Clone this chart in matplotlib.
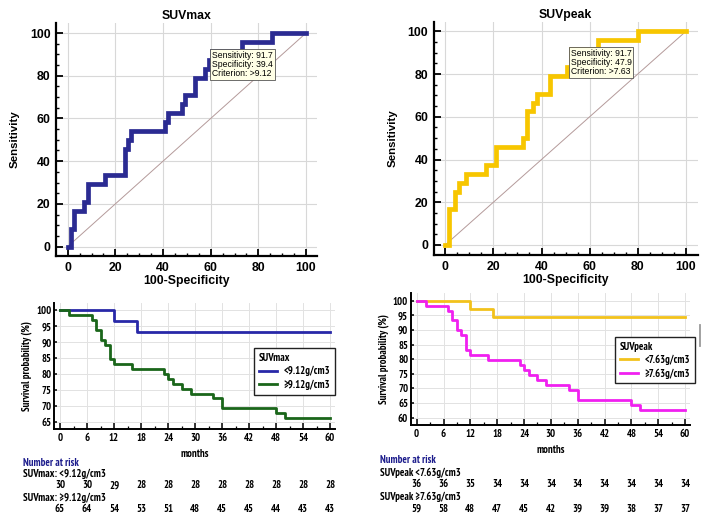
import matplotlib
matplotlib.use("Agg")
import matplotlib.pyplot as plt
from matplotlib import font_manager
from matplotlib.ticker import MultipleLocator
import matplotlib.transforms as mtransforms

W, H = 703, 518

# ROC data (corner points: x = 100-specificity, y = sensitivity)
roc_max_x = [0, 1.41, 2.82, 7.04, 8.45, 15.49, 23.94, 25.35, 26.76, 40.85, 42.25,
             47.89, 49.30, 53.52, 57.75, 59.15, 60.56, 73.24, 85.92, 100]
roc_max_y = [0, 8.33, 16.67, 20.83, 29.17, 33.33, 45.83, 50.0, 54.17, 58.33, 62.5,
             66.67, 70.83, 79.17, 83.33, 87.5, 91.67, 95.83, 100, 100]
roc_peak_x = [0, 1.41, 4.23, 5.63, 8.45, 16.90, 21.13, 32.39, 33.80, 36.62, 38.03,
              43.66, 50.70, 52.11, 63.38, 80.28, 100]
roc_peak_y = [0, 16.67, 25.0, 29.17, 33.33, 37.5, 45.83, 50.0, 62.5, 66.67, 70.83,
              79.17, 83.33, 91.67, 95.83, 100, 100]
crit_max = (60.56, 91.67, "Sensitivity: 91.7\nSpecificity: 39.4\nCriterion: >9.12")
crit_peak = (52.11, 91.67, "Sensitivity: 91.7\nSpecificity: 47.9\nCriterion: >7.63")

# Kaplan-Meier data (months, survival %)
km_max_lo_t = [0, 12, 17, 60]
km_max_lo_s = [100, 96.67, 93.33, 93.33]
km_max_hi_t = [0, 2, 7, 8, 9, 10, 11, 12, 16, 23, 24, 25, 27, 29, 34, 36, 48, 50, 60]
km_max_hi_s = [100, 98.46, 96.92, 93.85, 90.77, 89.23, 84.62, 83.08, 81.54, 80.0,
               78.46, 76.92, 75.38, 73.85, 72.31, 69.23, 67.69, 66.15, 66.15]
km_peak_lo_t = [0, 12, 17, 60]
km_peak_lo_s = [100, 97.22, 94.44, 94.44]
km_peak_hi_t = [0, 2, 7, 8, 9, 10, 11, 12, 16, 23, 24, 25, 27, 29, 34, 36, 48, 50, 60]
km_peak_hi_s = [100, 98.31, 96.61, 93.22, 89.83, 88.14, 83.05, 81.36, 79.66, 77.97,
                76.27, 74.58, 72.88, 71.19, 69.49, 66.10, 64.41, 62.71, 62.71]

risk_times = [0, 6, 12, 18, 24, 30, 36, 42, 48, 54, 60]
risk_max_lo = [30, 30, 29, 28, 28, 28, 28, 28, 28, 28, 28]
risk_max_hi = [65, 64, 54, 53, 51, 48, 45, 45, 44, 43, 43]
risk_peak_lo = [36, 36, 35, 34, 34, 34, 34, 34, 34, 34, 34]
risk_peak_hi = [59, 58, 48, 47, 45, 42, 39, 39, 38, 37, 37]

installed = {f.name for f in font_manager.fontManager.ttflist}
SANS = "Liberation Sans" if "Liberation Sans" in installed else "DejaVu Sans"
NARROW = SANS
for cand in ("PT Sans Narrow", "Roboto Condensed", "Open Sans Condensed"):
    if cand in installed:
        NARROW = cand
        break
NFAM = [NARROW, "DejaVu Sans"]
KM_FS = 7.7
plt.rcParams["font.family"] = [SANS, "DejaVu Sans"]

fig = plt.figure(figsize=(W / 100, H / 100), dpi=100)


def rect(left, top, right, bottom):
    return [left / W, 1 - bottom / H, (right - left) / W, (bottom - top) / H]


def roc_panel(box, xs, ys, color, title, crit, xlim, ylim):
    ax = fig.add_axes(box)
    ax.plot([0, 100], [0, 100], color="#b49a9a", lw=0.7, zorder=2)
    ax.step(xs, ys, where="post", color=color, lw=3.4, zorder=3,
            solid_joinstyle="miter")
    ax.set_xlim(*xlim)
    ax.set_ylim(*ylim)
    ax.xaxis.set_major_locator(MultipleLocator(20))
    ax.yaxis.set_major_locator(MultipleLocator(20))
    ax.xaxis.set_minor_locator(MultipleLocator(5))
    ax.yaxis.set_minor_locator(MultipleLocator(5))
    ax.grid(which="major", color="#d8d8d8", lw=0.8)
    ax.set_axisbelow(True)
    for s in ("top", "right"):
        ax.spines[s].set_visible(False)
    for s in ("left", "bottom"):
        ax.spines[s].set_linewidth(1.6)
    ax.tick_params(which="major", direction="in", length=5, width=1.3,
                   labelsize=8.8, pad=4)
    ax.tick_params(which="minor", direction="in", length=2.5, width=1.0)
    for lab in ax.get_xticklabels() + ax.get_yticklabels():
        lab.set_fontweight("bold")
    ax.set_title(title, fontsize=8.8, fontweight="bold", pad=3)
    ax.set_xlabel("100-Specificity", fontsize=8.8, fontweight="bold", labelpad=1)
    ax.set_ylabel("Sensitivity", fontsize=8.2, fontweight="bold", labelpad=7)
    ax.text(crit[0], crit[1], crit[2], fontsize=6.2, va="top", ha="left",
            linespacing=1.0, zorder=5,
            bbox=dict(boxstyle="square,pad=0.2", fc="#ffffe6", ec="#555555", lw=0.6))
    return ax


def km_panel(box, curves, xlim, ylim, yticks, legend_title, legend_anchor):
    ax = fig.add_axes(box)
    for t, s, color, lab in curves:
        ax.step(t, s, where="post", color=color, lw=2.0, label=lab)
    ax.set_xlim(*xlim)
    ax.set_ylim(*ylim)
    ax.set_xticks(risk_times)
    ax.xaxis.set_minor_locator(MultipleLocator(3))
    ax.set_yticks(yticks)
    ax.grid(which="major", color="#e2e2e2", lw=0.7)
    ax.set_axisbelow(True)
    for s in ("top", "right"):
        ax.spines[s].set_visible(False)
    for s in ("left", "bottom"):
        ax.spines[s].set_linewidth(1.4)
    ax.tick_params(which="major", direction="in", length=4, width=1.1,
                   labelsize=KM_FS, pad=3)
    ax.tick_params(axis="y", which="major", length=2.5, pad=2)
    ax.tick_params(which="minor", direction="in", length=2, width=0.9)
    for lab in ax.get_xticklabels() + ax.get_yticklabels():
        lab.set_family(NFAM)
        lab.set_fontweight("bold")
    ax.set_xlabel("months", fontsize=KM_FS, fontweight="bold", family=NFAM, labelpad=4)
    ax.set_ylabel("Survival probability (%)", fontsize=KM_FS, fontweight="bold",
                  family=NFAM, labelpad=3)
    leg = ax.legend(title=legend_title, loc="upper right",
                    bbox_to_anchor=(legend_anchor[0] / W, 1 - legend_anchor[1] / H),
                    bbox_transform=fig.transFigure, borderaxespad=0,
                    fancybox=False, framealpha=1,
                    edgecolor="#222222", handlelength=1.7, handletextpad=0.6,
                    borderpad=0.45, labelspacing=0.3, alignment="left",
                    prop={"family": NFAM, "size": KM_FS, "weight": "bold"},
                    title_fontproperties={"family": NFAM, "size": KM_FS, "weight": "bold"})
    leg.get_frame().set_linewidth(1.0)
    return ax


def risk_table(ax, x_label, y_rows, group_labels, counts):
    tr = mtransforms.blended_transform_factory(ax.transData, fig.transFigure)
    fig.text(x_label / W, 1 - y_rows[0] / H, "Number at risk", fontsize=KM_FS,
             fontweight="bold", color="#1c1c8c", family=NFAM, va="center")
    for i, (glab, cnt) in enumerate(zip(group_labels, counts)):
        fig.text(x_label / W, 1 - y_rows[1 + 2 * i] / H, glab, fontsize=KM_FS,
                 fontweight="bold", family=NFAM, va="center")
        for t, n in zip(risk_times, cnt):
            ax.text(t, 1 - y_rows[2 + 2 * i] / H, str(n), transform=tr, fontsize=KM_FS,
                    fontweight="bold", family=NFAM, ha="center", va="center")


roc_panel(rect(56, 23, 317, 256), roc_max_x, roc_max_y, "#2b2b92", "SUVmax",
          crit_max, (-4.9, 104.6), (-4.4, 104.7))
roc_panel(rect(433.7, 21.7, 697.7, 255), roc_peak_x, roc_peak_y, "#f7c600", "SUVpeak",
          crit_peak, (-4.8, 104.9), (-4.7, 104.5))

ax3 = km_panel(rect(54.3, 303, 335, 429.3),
               [(km_max_lo_t, km_max_lo_s, "#2828a8", "<9.12g/cm3"),
                (km_max_hi_t, km_max_hi_s, "#1a661a", "\u22659.12g/cm3")],
               (-1.27, 61.1), (62.6, 102.3), list(range(65, 101, 5)),
               "SUVmax", (335, 348))
risk_table(ax3, 23, [462.7, 474, 485.3, 497.7, 509.3],
           ["SUVmax: <9.12g/cm3", "SUVmax: \u22659.12g/cm3"],
           [risk_max_lo, risk_max_hi])

ax4 = km_panel(rect(411, 293, 690, 425),
               [(km_peak_lo_t, km_peak_lo_s, "#f2c21c", "<7.63g/cm3"),
                (km_peak_hi_t, km_peak_hi_s, "#f020f0", "\u22657.63g/cm3")],
               (-1.27, 61.1), (57.5, 102.6), list(range(60, 101, 5)),
               "SUVpeak", (695, 336.7))
risk_table(ax4, 380, [460, 472.7, 484, 496.7, 509],
           ["SUVpeak <7.63g/cm3", "SUVpeak \u22657.63g/cm3"],
           [risk_peak_lo, risk_peak_hi])

# small grey mark at the right edge of the lower-right panel
fig.add_artist(plt.Line2D([699.5 / W, 699.5 / W], [1 - 325 / H, 1 - 346 / H],
                          color="#9a9a9a", lw=1.3))

fig.savefig("out.png", dpi=100)
